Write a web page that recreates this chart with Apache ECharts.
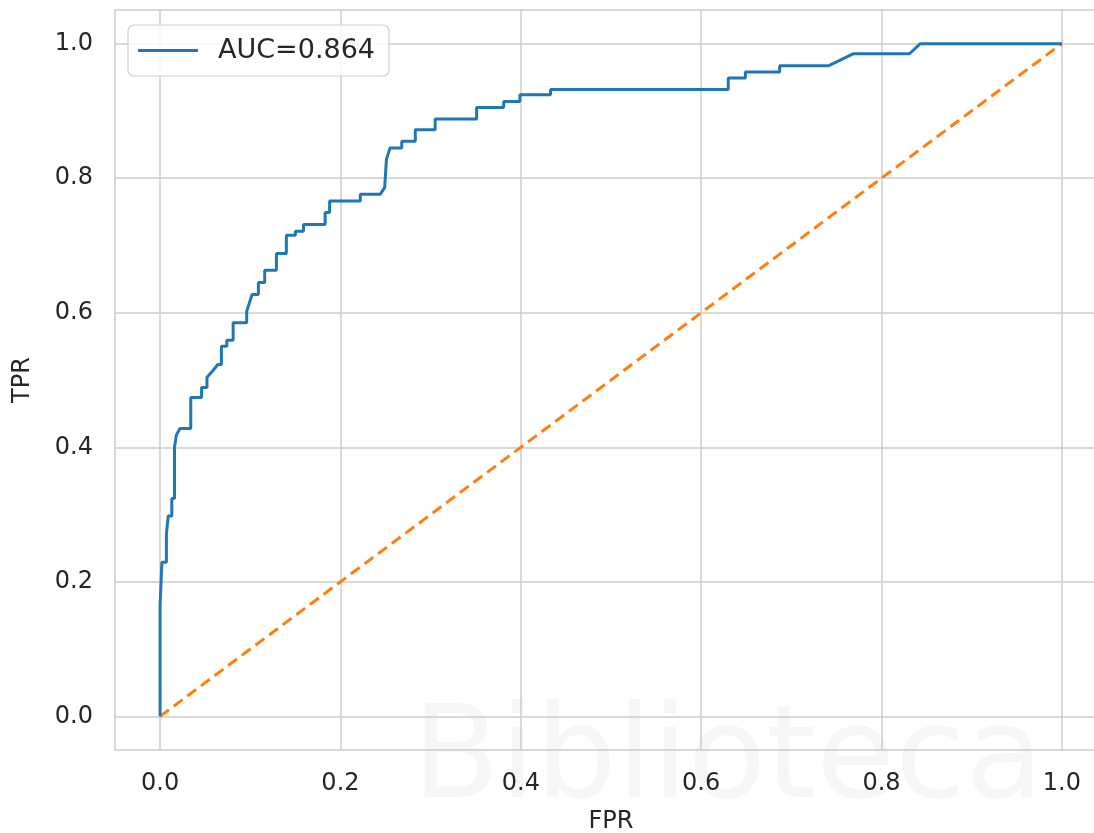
<!DOCTYPE html>
<html>
<head>
<meta charset="utf-8">
<script src="https://cdn.jsdelivr.net/npm/echarts@6/dist/echarts.min.js"></script>
<style>
html,body{margin:0;padding:0;background:#fff;}
#chart{width:1094px;height:833px;}
</style>
</head>
<body>
<div id="chart"></div>
<script>
// ROC curve vertices
const fpr = [0, 0, 0.002, 0.002, 0.007, 0.007, 0.009, 0.009, 0.013, 0.013, 0.016, 0.016, 0.018, 0.022, 0.034, 0.034,
  0.046, 0.046, 0.052, 0.052, 0.058, 0.064, 0.068, 0.068, 0.074, 0.074, 0.081, 0.081, 0.096, 0.096, 0.102,
  0.109, 0.109, 0.116, 0.116, 0.129, 0.129, 0.140, 0.140, 0.150, 0.150, 0.159, 0.159, 0.183, 0.183, 0.188, 0.188,
  0.222, 0.222, 0.244, 0.249, 0.251, 0.255, 0.268, 0.268, 0.283, 0.283, 0.305, 0.305, 0.351, 0.351, 0.381, 0.381,
  0.399, 0.399, 0.433, 0.433, 0.630, 0.630, 0.649, 0.649, 0.687, 0.687, 0.741, 0.769, 0.831, 0.843, 1.0];
const tpr = [0, 0.166, 0.166, 0.229, 0.229, 0.270, 0.270, 0.298, 0.298, 0.324, 0.324, 0.400, 0.418, 0.428, 0.428, 0.474,
  0.474, 0.489, 0.489, 0.504, 0.513, 0.523, 0.523, 0.550, 0.550, 0.559, 0.559, 0.585, 0.585, 0.602, 0.627,
  0.627, 0.645, 0.645, 0.663, 0.663, 0.688, 0.688, 0.715, 0.715, 0.721, 0.721, 0.731, 0.731, 0.749, 0.749, 0.766,
  0.766, 0.776, 0.776, 0.786, 0.828, 0.845, 0.845, 0.855, 0.855, 0.872, 0.872, 0.888, 0.888, 0.905, 0.905, 0.914,
  0.914, 0.924, 0.924, 0.932, 0.932, 0.949, 0.949, 0.958, 0.958, 0.967, 0.967, 0.985, 0.985, 1.0, 1.0];
const diagX = [0, 1];
const diagY = [0, 1];
const xTicks = [0, 0.2, 0.4, 0.6, 0.8, 1.0];
const yTicks = [0, 0.2, 0.4, 0.6, 0.8, 1.0];
const seriesName = 'AUC=0.864';

const chart = echarts.init(document.getElementById('chart'));
const font = 'DejaVu Sans';
const gridColor = '#cccccc';
const textColor = '#262626';

chart.setOption({
  animation: false,
  backgroundColor: '#ffffff',
  grid: { left: 115, top: 10, width: 992, height: 740, outerBoundsMode: 'none', containLabel: false,
    show: true, borderColor: gridColor, borderWidth: 1.5, backgroundColor: 'transparent' },
  graphic: [{
    type: 'text', left: 412, top: 700, z: -10, silent: true,
    style: { text: 'Biblioteca', fontSize: 128, fontFamily: font, fill: 'rgba(0,0,0,0.035)' }
  }],
  legend: {
    left: 128, top: 25,
    data: [seriesName],
    icon: 'rect',
    itemWidth: 60, itemHeight: 3,
    padding: [12, 14, 12, 10],
    borderColor: '#d0d0d0', borderWidth: 1.2, borderRadius: 6,
    backgroundColor: 'rgba(255,255,255,0.85)',
    textStyle: { fontSize: 27, fontFamily: font, color: textColor, padding: [0, 0, 0, 15] }
  },
  xAxis: {
    type: 'value', min: -0.05, max: 1.05,
    name: 'FPR', nameLocation: 'middle', nameGap: 60,
    nameTextStyle: { fontSize: 24, fontFamily: font, color: textColor },
    axisLine: { show: false },
    axisTick: { show: false, customValues: xTicks },
    axisLabel: { customValues: xTicks, fontSize: 24, fontFamily: font, color: textColor, margin: 22,
      formatter: v => v.toFixed(1) },
    splitLine: { show: true, lineStyle: { color: gridColor, width: 1.5 } }
  },
  yAxis: {
    type: 'value', min: -0.05, max: 1.05,
    name: 'TPR', nameLocation: 'middle', nameGap: 80,
    nameTextStyle: { fontSize: 24, fontFamily: font, color: textColor },
    axisLine: { show: false },
    axisTick: { show: false, customValues: yTicks },
    axisLabel: { customValues: yTicks, fontSize: 24, fontFamily: font, color: textColor, margin: 22,
      formatter: v => v.toFixed(1) },
    splitLine: { show: true, lineStyle: { color: gridColor, width: 1.5 } }
  },
  series: [
    {
      name: seriesName, type: 'line', symbol: 'none', z: 3,
      data: fpr.map((x, i) => [x, tpr[i]]),
      lineStyle: { color: '#1f77b4', width: 3 },
      itemStyle: { color: '#1f77b4' }
    },
    {
      name: 'diag', type: 'line', symbol: 'none', z: 2,
      data: diagX.map((x, i) => [x, diagY[i]]),
      lineStyle: { color: '#ff7f0e', width: 3, type: [11, 6] },
      itemStyle: { color: '#ff7f0e' }
    }
  ]
});
</script>
</body>
</html>
